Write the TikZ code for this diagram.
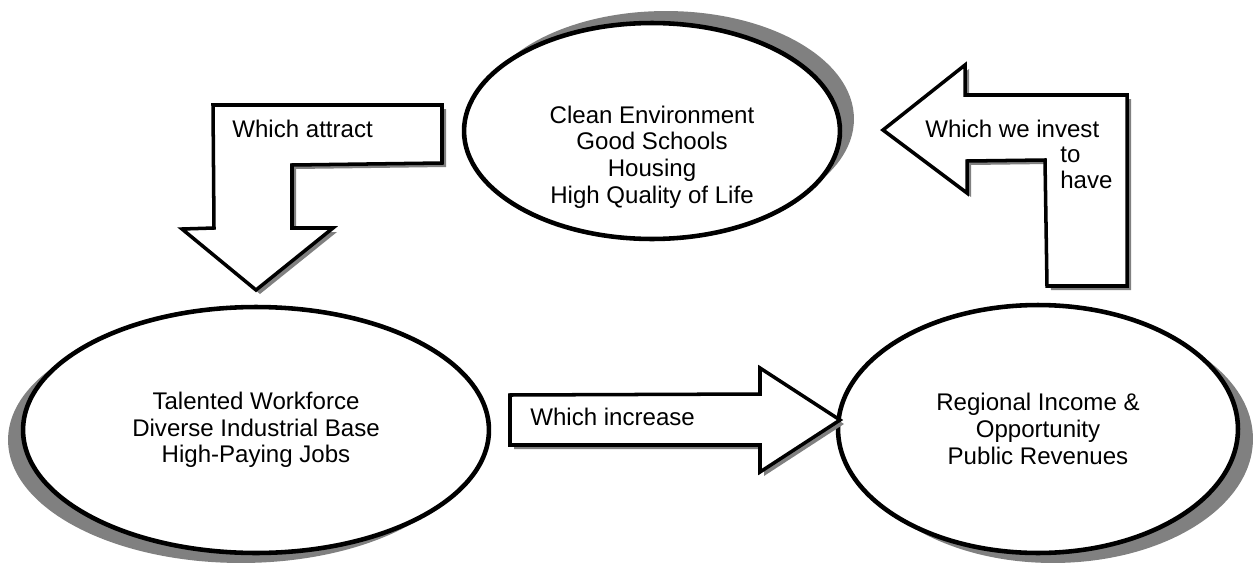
\documentclass[tikz,border=0pt]{standalone}
\usepackage{fontspec}
\setmainfont{Liberation Sans}
\usetikzlibrary{shapes.geometric, shadows}
\tikzstyle{goal} = [ellipse, draw = black, line width = 2.6pt, fill = white, align = center, font = \fontsize{13.7}{15.2}\selectfont]
\tikzstyle{blockarrow} = [draw = black, line width = 2pt, fill = white, line join = miter, drop shadow = {shadow xshift = 0.08cm, shadow yshift = -0.08cm, fill = black!50, opacity = 1}]
\tikzstyle{arrowtext} = [anchor = base west, inner sep = 0pt, align = left, font = \fontsize{13.7}{14.5}\selectfont]

\begin{document}
\begin{tikzpicture}[x = 0.02cm, y = -0.02cm]
    \useasboundingbox (0,0) rectangle (1255,565);

    % the three ellipses, each with its own shadow direction
    \node (quality) [goal, minimum width = 7.52cm, minimum height = 4.32cm, drop shadow = {shadow xshift = 0.28cm, shadow yshift = 0.24cm, fill = black!50, opacity = 1}] at (652,131) {};
    \node (qualitytext) [align = center, font = \fontsize{13.7}{15.2}\selectfont] at (652,157) {Clean Environment\\Good Schools\\Housing\\High Quality of Life};
    \node (workforce) [goal, minimum width = 9.32cm, minimum height = 4.92cm, drop shadow = {shadow xshift = -0.3cm, shadow yshift = -0.2cm, fill = black!50, opacity = 1}] at (256,430) {Talented Workforce\\Diverse Industrial Base\\High-Paying Jobs};
    \node (income) [goal, minimum width = 8cm, minimum height = 4.96cm, drop shadow = {shadow xshift = 0.3cm, shadow yshift = -0.2cm, fill = black!50, opacity = 1}] at (1038,429) {Regional Income \&\\Opportunity\\Public Revenues};

    % bent arrow down to the workforce
    \draw [blockarrow] (213,105) -- (442,105) -- (442,163) -- (292,165) -- (292,228) -- (333,228) -- (256,290) -- (182,229) -- (214,228) -- cycle;
    % straight arrow into the income ellipse
    \draw [blockarrow] (510,395) -- (760,394) -- (760,368) -- (840,420) -- (760,472) -- (760,445) -- (510,445) -- cycle;
    % bent arrow back up to the quality ellipse
    \draw [blockarrow] (883,130) -- (965,65) -- (965,95) -- (1127,95) -- (1127,286) -- (1047,286) -- (1045,160) -- (967,161) -- (967,193) -- cycle;

    \node (attract) [arrowtext] at (232,137) {Which attract};
    \node (increase) [arrowtext] at (530,425) {Which increase};
    % base anchor sits on the last line here
    \node (invest) [arrowtext] at (925,188) {Which we invest\\\hspace*{2.7cm}to\\\hspace*{2.7cm}have};
\end{tikzpicture}
\end{document}
